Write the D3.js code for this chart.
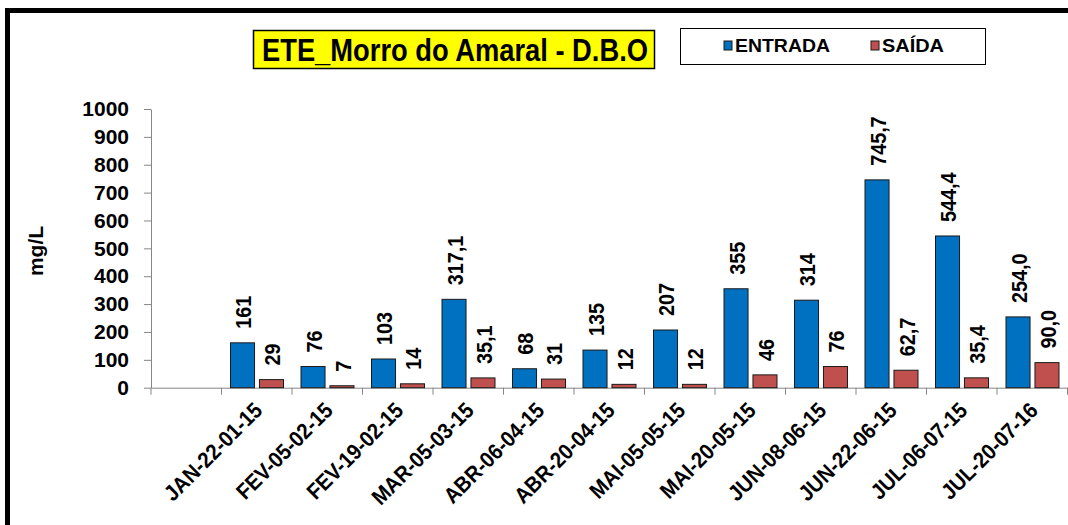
<!DOCTYPE html>
<html>
<head>
<meta charset="utf-8">
<script src="https://cdn.jsdelivr.net/npm/d3@7"></script>
<style>
  body { margin: 0; background: #fff; }
  svg { display: block; font-family: Arial, "Liberation Sans", sans-serif; }
</style>
</head>
<body>
<div class="chart"></div>
<script>
// dados do gráfico
const categories = ['', 'JAN-22-01-15', 'FEV-05-02-15', 'FEV-19-02-15', 'MAR-05-03-15', 'ABR-06-04-15',
  'ABR-20-04-15', 'MAI-05-05-15', 'MAI-20-05-15', 'JUN-08-06-15', 'JUN-22-06-15', 'JUL-06-07-15', 'JUL-20-07-16'];
const entrada = [null, 161, 76, 103, 317.1, 68, 135, 207, 355, 314, 745.7, 544.4, 254.0];
const saida = [null, 29, 7, 14, 35.1, 31, 12, 12, 46, 76, 62.7, 35.4, 90.0];
const entrada_labels = ['', '161', '76', '103', '317,1', '68', '135', '207', '355', '314', '745,7', '544,4', '254,0'];
const saida_labels = ['', '29', '7', '14', '35,1', '31', '12', '12', '46', '76', '62,7', '35,4', '90,0'];
const y_ticks = [0, 100, 200, 300, 400, 500, 600, 700, 800, 900, 1000];
const series_names = ['ENTRADA', 'SAÍDA'];
const series_colors = ['#0070C0', '#C0504D'];

const width = 1068, height = 525;
const plot = {left: 151, right: 1067.5, top: 109, bottom: 387.7};

const svg = d3.select('.chart').append('svg')
  .attr('width', width).attr('height', height);

// moldura
svg.append('path')
  .attr('d', `M7.5,${height} V10.5 H${width}`)
  .attr('fill', 'none').attr('stroke', '#000').attr('stroke-width', 5);

// escalas
const x = d3.scaleBand().domain(categories).range([plot.left, plot.right]).padding(0);
const x_inner = d3.scaleBand().domain([0, 1]).range([9, 62]).paddingInner(0.17);
const y = d3.scaleLinear().domain([0, 1000]).range([plot.bottom, plot.top]);

// eixo Y
const y_axis = d3.axisLeft(y).tickValues(y_ticks).tickFormat(d3.format('d')).tickSizeInner(7).tickSizeOuter(0).tickPadding(15);
const gy = svg.append('g').attr('transform', `translate(${plot.left},0)`).call(y_axis);
gy.select('.domain').attr('stroke', '#868686');
gy.selectAll('.tick line').attr('stroke', '#868686');
gy.selectAll('.tick text').attr('font-size', 21).attr('font-weight', 'bold').attr('fill', '#000')
  .attr('font-family', 'Arial, "Liberation Sans", sans-serif');

// eixo X
const x_axis = d3.axisBottom(x).tickSize(0).tickPadding(0);
const gx = svg.append('g').attr('transform', `translate(0,${plot.bottom})`).call(x_axis);
gx.select('.domain').attr('stroke', '#868686');
gx.selectAll('.tick text')
  .attr('font-size', 22).attr('font-weight', 'bold').attr('fill', '#000')
  .attr('font-family', 'Arial, "Liberation Sans", sans-serif')
  .attr('text-anchor', 'end')
  .attr('dy', 0).attr('y', 0)
  .attr('transform', 'translate(7,24) rotate(-45) scale(0.92,1)');
// marcas entre categorias
gx.selectAll('.sep')
  .data(categories.map(c => x(c)).concat([plot.right]))
  .enter().append('line')
  .attr('x1', d => d).attr('x2', d => d)
  .attr('y1', 0).attr('y2', 7)
  .attr('stroke', '#868686');

// barras
const series = [
  {name: series_names[0], color: series_colors[0], values: entrada, labels: entrada_labels},
  {name: series_names[1], color: series_colors[1], values: saida, labels: saida_labels}
];

series.forEach((s, i) => {
  const rows = categories.map((c, j) => ({cat: c, value: s.values[j], label: s.labels[j]}))
    .filter(d => d.value != null);
  svg.append('g').selectAll('rect')
    .data(rows).enter().append('rect')
    .attr('x', d => x(d.cat) + x_inner(i))
    .attr('y', d => y(d.value))
    .attr('width', x_inner.bandwidth())
    .attr('height', d => y(0) - y(d.value))
    .attr('fill', s.color)
    .attr('stroke', '#1a1a1a').attr('stroke-width', 1);
  svg.append('g').selectAll('text')
    .data(rows).enter().append('text')
    .attr('transform', d => `translate(${x(d.cat) + x_inner(i) + x_inner.bandwidth() / 2 + 1},${y(d.value) - 14}) rotate(-90) scale(0.9,1)`)
    .attr('dy', '0.36em')
    .attr('font-size', 22).attr('font-weight', 'bold')
    .text(d => d.label);
});

// rótulo do eixo Y
svg.append('text')
  .attr('transform', 'translate(35,251) rotate(-90)')
  .attr('text-anchor', 'middle').attr('dy', '0.36em')
  .attr('font-size', 21).attr('font-weight', 'bold')
  .text('mg/L');

// título
const title = svg.append('g');
title.append('rect')
  .attr('x', 253.5).attr('y', 30.5).attr('width', 401).attr('height', 38)
  .attr('fill', '#FFFF00').attr('stroke', '#000').attr('stroke-width', 1.5);
title.append('text')
  .attr('x', 262).attr('y', 61)
  .attr('font-size', 32).attr('font-weight', 'bold')
  .attr('textLength', 386).attr('lengthAdjust', 'spacingAndGlyphs')
  .text('ETE_Morro do Amaral - D.B.O');

// legenda
const legend = svg.append('g');
legend.append('rect')
  .attr('x', 680.5).attr('y', 28.5).attr('width', 305).attr('height', 36)
  .attr('fill', '#fff').attr('stroke', '#000').attr('stroke-width', 1);
const legend_x = [724, 871];
const legend_w = [95, 62];
series.forEach((s, i) => {
  legend.append('rect')
    .attr('x', legend_x[i]).attr('y', 41).attr('width', 8).attr('height', 9)
    .attr('fill', s.color).attr('stroke', '#1a1a1a').attr('stroke-width', 1);
  legend.append('text')
    .attr('x', legend_x[i] + 11).attr('y', 52)
    .attr('font-size', 18).attr('font-weight', 'bold')
    .attr('textLength', legend_w[i]).attr('lengthAdjust', 'spacingAndGlyphs')
    .text(s.name);
});
</script>
</body>
</html>
